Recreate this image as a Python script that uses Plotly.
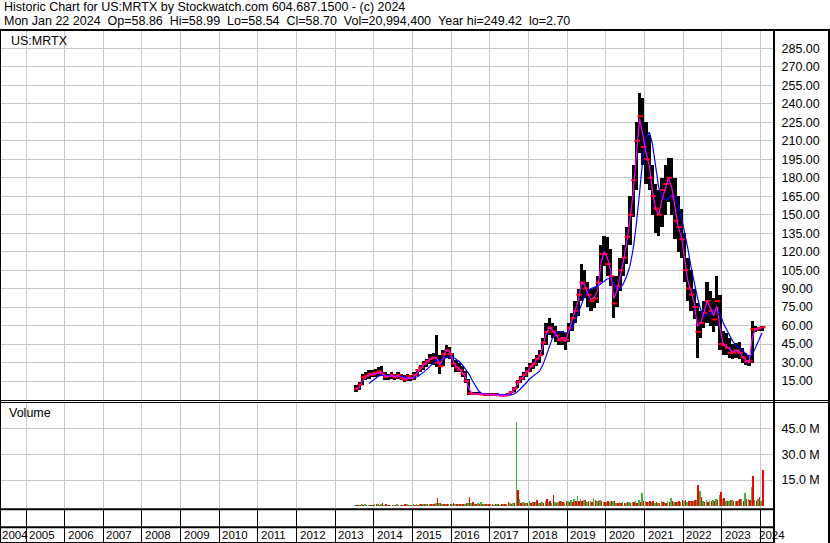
import plotly.graph_objects as go

# ---------------- data ----------------
months = [
    "2013-07","2013-08","2013-09","2013-10","2013-11","2013-12",
    "2014-01","2014-02","2014-03","2014-04","2014-05","2014-06","2014-07","2014-08","2014-09","2014-10","2014-11","2014-12",
    "2015-01","2015-02","2015-03","2015-04","2015-05","2015-06","2015-07","2015-08","2015-09","2015-10","2015-11","2015-12",
    "2016-01","2016-02","2016-03","2016-04","2016-05","2016-06","2016-07","2016-08","2016-09","2016-10","2016-11","2016-12",
    "2017-01","2017-02","2017-03","2017-04","2017-05","2017-06","2017-07","2017-08","2017-09","2017-10","2017-11","2017-12",
    "2018-01","2018-02","2018-03","2018-04","2018-05","2018-06","2018-07","2018-08","2018-09","2018-10","2018-11","2018-12",
    "2019-01","2019-02","2019-03","2019-04","2019-05","2019-06","2019-07","2019-08","2019-09","2019-10","2019-11","2019-12",
    "2020-01","2020-02","2020-03","2020-04","2020-05","2020-06","2020-07","2020-08","2020-09","2020-10","2020-11","2020-12",
    "2021-01","2021-02","2021-03","2021-04","2021-05","2021-06","2021-07","2021-08","2021-09","2021-10","2021-11","2021-12",
    "2022-01","2022-02","2022-03","2022-04","2022-05","2022-06","2022-07","2022-08","2022-09","2022-10","2022-11","2022-12",
    "2023-01","2023-02","2023-03","2023-04","2023-05","2023-06","2023-07","2023-08","2023-09","2023-10","2023-11","2023-12",
    "2024-01",
]
highs = [
    12, 14, 21, 22, 24, 24,
    25, 26, 27, 22, 21, 22, 21, 22, 21, 20, 21, 20,
    22, 25, 28, 31, 33, 37, 38, 52, 36, 40, 44, 43,
    38, 32, 30, 27, 23, 17, 6, 6, 6, 5.5, 5.5, 5.5,
    5.5, 5, 5, 4.5, 4.5, 5, 7, 10, 16, 19, 22, 26,
    30, 33, 36, 40, 50, 62, 66, 62, 60, 56, 56, 54,
    62, 70, 80, 90, 110, 105, 95, 90, 91, 100, 125, 133,
    132, 122, 100, 100, 115, 125, 140, 165, 190, 225, 249, 245,
    225, 215, 190, 175, 170, 180, 190, 196, 196, 180, 165, 155,
    135, 115, 105, 90, 78, 72, 80, 95, 88, 82, 100, 85,
    56, 54, 50, 45, 46, 47, 42, 38, 36, 64, 60, 59,
    59.5,
]
lows = [
    6, 8, 12, 16, 17, 18,
    18, 19, 19, 16, 16, 17, 16, 17, 16, 14, 15, 15,
    16, 19, 22, 24, 26, 29, 28, 26, 21, 27, 34, 33,
    26, 22, 22, 18, 13, 4, 3.5, 3.5, 3.5, 3.5, 3, 3,
    3, 3, 2.7, 2.7, 2.7, 3, 3.5, 6, 9, 13, 16, 18,
    22, 25, 27, 30, 36, 44, 52, 50, 47, 44, 44, 40,
    47, 56, 62, 68, 80, 82, 75, 72, 74, 78, 95, 108,
    100, 92, 66, 75, 88, 100, 110, 125, 148, 170, 200, 190,
    175, 170, 150, 135, 133, 140, 150, 160, 150, 130, 120, 115,
    95, 80, 72, 65, 34, 50, 58, 62, 60, 55, 60, 40,
    36, 36, 34, 33, 34, 33, 30, 28, 27, 30, 55, 56,
    56,
]
closes = [
    9, 12, 18, 19, 21, 20,
    22, 23, 21, 18, 19, 20, 18, 20, 17, 16, 19, 17,
    20, 24, 26, 29, 31, 33, 34, 30, 27, 37, 40, 37,
    29, 26, 24, 21, 15, 5, 4.5, 4.5, 4.5, 4, 4, 4,
    4, 3.8, 3.5, 3.2, 3.2, 4, 6, 9, 14, 17, 20, 23,
    27, 29, 33, 36, 46, 55, 58, 55, 52, 48, 50, 48,
    58, 66, 72, 85, 95, 90, 85, 80, 82, 95, 118, 118,
    110, 100, 78, 92, 105, 115, 132, 150, 178, 210, 230, 205,
    195, 180, 165, 155, 150, 170, 175, 180, 165, 145, 140, 130,
    105, 90, 85, 75, 55, 62, 70, 80, 72, 65, 80, 45,
    44, 42, 38, 38, 40, 38, 34, 31, 31, 57, 57, 58,
    58.7,
]
ma_short = [
    8, 10, 15, 18, 20, 20.5,
    21, 22, 22, 19, 18.5, 19.5, 18.5, 19.5, 18, 16.5, 17.5, 17,
    18.5, 22, 25, 28, 30, 33, 34, 34, 28, 33, 40, 39,
    32, 27, 25, 22, 18, 9, 5, 4.5, 4.5, 4.5, 4, 4,
    4, 4, 3.7, 3.4, 3.2, 3.6, 5, 8, 12, 16, 19, 22,
    26, 29, 32, 35, 43, 53, 59, 56, 53, 49, 50, 47,
    55, 64, 72, 80, 95, 93, 86, 81, 83, 88, 110, 120,
    115, 105, 82, 88, 100, 112, 127, 145, 168, 198, 228, 215,
    200, 190, 170, 155, 150, 162, 172, 180, 172, 155, 140, 132,
    115, 96, 88, 78, 60, 62, 70, 80, 74, 68, 76, 58,
    45, 43, 41, 38, 40, 39, 35, 32, 30, 50, 57, 57.5,
    58.5,
]
ma_long = [
    None, None, None, None, 13, 15,
    17, 19, 20, 20, 20, 19.5, 19, 19, 19, 18.5, 18, 17.5,
    17.5, 18.5, 20, 22, 24.5, 27, 30, 32, 32, 33, 34, 35,
    34.5, 33, 31, 28, 25, 21, 16, 11, 7, 5, 4.5, 4.3,
    4.2, 4.1, 4, 3.8, 3.6, 3.5, 3.8, 4.5, 6, 8.5, 11, 14,
    17, 19.5, 21, 23, 28, 35, 43, 50, 54, 55, 55, 54,
    55, 58, 63, 70, 78, 84, 88, 90, 91, 92, 94, 96,
    98, 98, 94, 90, 90, 94, 100, 108, 122, 142, 168, 195,
    212, 217, 208, 188, 172, 164, 162, 163, 166, 165, 158, 148,
    136, 122, 108, 95, 83, 73, 68, 68, 70, 72, 73, 70,
    62, 57, 52, 47, 44, 42, 40, 37, 35, 36, 42, 48,
    54,
]
# volume in millions of shares (largest up-day / down-day of each month)
vol_up = [
    0.6, 0.8, 1.0, 0.9, 0.8, 0.7,
    1.0, 1.2, 1.3, 0.8, 0.7, 0.8, 0.8, 0.9, 0.7, 0.8, 0.9, 0.7,
    0.9, 1.1, 1.2, 1.0, 1.1, 1.3, 1.2, 2.0, 1.5, 1.2, 1.4, 1.1,
    1.0, 1.1, 0.9, 1.0, 1.2, 1.5, 1.8, 1.0, 1.5, 2.5, 1.0, 0.9,
    1.0, 0.8, 0.9, 0.8, 0.9, 1.0, 1.5, 2.0, 48.5, 4.0, 2.5, 2.0,
    3.0, 2.2, 2.5, 2.0, 2.5, 3.0, 2.5, 2.0, 2.5, 2.2, 2.8, 2.0,
    3.0, 3.5, 4.0, 5.5, 4.0, 3.5, 2.5, 3.0, 4.5, 3.0, 3.2, 2.5,
    2.5, 2.2, 3.0, 2.0, 2.2, 2.5, 2.0, 2.2, 2.5, 3.0, 3.5, 7.5,
    3.0, 2.5, 2.5, 2.0, 2.0, 3.0, 2.5, 3.0, 4.5, 2.5, 2.5, 2.5,
    3.0, 2.5, 3.0, 3.0, 3.5, 8.5, 3.0, 3.5, 3.0, 3.5, 4.0, 6.5,
    4.0, 3.0, 3.0, 3.5, 3.0, 3.5, 4.0, 7.5, 4.0, 11.0, 3.5, 4.0,
    3.0,
]
vol_dn = [
    0.4, 0.6, 0.7, 0.8, 0.6, 0.6,
    0.9, 0.8, 1.5, 1.0, 0.8, 0.6, 0.7, 0.7, 0.8, 1.0, 0.7, 0.8,
    0.7, 0.8, 1.0, 0.9, 0.9, 1.0, 1.4, 4.5, 2.0, 1.0, 1.2, 1.3,
    1.5, 1.2, 1.0, 1.1, 1.6, 5.0, 2.2, 0.9, 1.0, 1.4, 0.9, 1.0,
    1.2, 0.9, 1.3, 1.0, 1.1, 2.5, 1.0, 1.5, 9.5, 2.0, 1.8, 1.5,
    2.0, 2.5, 3.5, 2.0, 1.8, 4.0, 2.8, 6.5, 2.0, 3.0, 2.5, 3.0,
    2.2, 2.5, 2.8, 3.0, 3.0, 3.5, 3.0, 2.5, 3.2, 2.8, 3.0, 2.4,
    3.0, 2.8, 3.0, 2.0, 2.0, 2.0, 2.5, 2.0, 2.5, 2.0, 2.5, 3.0,
    2.5, 3.0, 3.0, 2.5, 2.0, 2.5, 2.0, 2.5, 3.0, 2.5, 3.0, 3.5,
    3.5, 3.0, 3.0, 3.5, 12.0, 5.0, 2.5, 2.5, 3.0, 3.0, 3.5, 8.0,
    4.5, 3.0, 3.5, 3.0, 3.0, 4.0, 3.0, 4.0, 3.5, 17.5, 3.0, 5.0,
    21.0,
]
price_ticks = [15, 30, 45, 60, 75, 90, 105, 120, 135, 150, 165, 180, 195, 210, 225, 240, 255, 270, 285]
vol_ticks = [15, 30, 45]
years = list(range(2004, 2025))

header1 = "Historic Chart for US:MRTX by Stockwatch.com 604.687.1500 - (c) 2024"
header2 = ("Mon Jan 22 2024  Op=58.86  Hi=58.99  Lo=58.54  Cl=58.70  "
           "Vol=20,994,400  Year hi=249.42  lo=2.70")

# ---------------- figure ----------------
FONT = "Liberation Sans, Arial, sans-serif"
W, H = 830, 543
ML, MR, MT, MB = 1, 56, 30, 1
PW, PH = W - ML - MR, H - MT - MB


def px(X):
    return (X - ML) / PW


def py(Y):
    return (H - MB - Y) / PH


dates = [m + "-15" for m in months]
mid_dates = [m + "-08" for m in months]
late_dates = [m + "-23" for m in months]
DAY = 86400000
xrange_ = ["2004-05-09", "2024-05-08"]
year_starts = [f"{y}-01-01" for y in years[1:]]

fig = go.Figure()

# price bars (monthly high-low ranges)
fig.add_trace(go.Bar(
    x=dates, y=[h - l for h, l in zip(highs, lows)], base=lows,
    width=31 * DAY, marker=dict(color="black", line=dict(width=0)),
    xaxis="x", yaxis="y", hoverinfo="skip"))
# closing ticks
fig.add_trace(go.Scatter(
    x=late_dates, y=closes, mode="markers",
    marker=dict(symbol="line-ew", size=4, line=dict(color="#ff0000", width=2)),
    xaxis="x", yaxis="y", hoverinfo="skip"))
fig.add_trace(go.Scatter(
    x=dates, y=ma_long, mode="lines", line=dict(color="#0000ff", width=1.2),
    xaxis="x", yaxis="y", hoverinfo="skip"))
fig.add_trace(go.Scatter(
    x=dates, y=ma_short, mode="lines", line=dict(color="#ff00ff", width=1.2),
    xaxis="x", yaxis="y", hoverinfo="skip"))

# volume
fig.add_trace(go.Bar(
    x=mid_dates, y=[v * 1e6 for v in vol_up], width=14 * DAY,
    marker=dict(color="#3cb43c", line=dict(width=0)),
    xaxis="x2", yaxis="y2", hoverinfo="skip"))
fig.add_trace(go.Bar(
    x=late_dates, y=[v * 1e6 for v in vol_dn], width=14 * DAY,
    marker=dict(color="#ff0000", line=dict(width=0)),
    xaxis="x2", yaxis="y2", hoverinfo="skip"))

# dummy trace for the year strip
fig.add_trace(go.Scatter(x=[xrange_[0]], y=[0], mode="markers",
                         marker=dict(opacity=0), xaxis="x3", yaxis="y3",
                         hoverinfo="skip"))

GRID = "#c8c8c8"
xcommon = dict(range=xrange_, type="date", tickmode="array", tickvals=year_starts,
               showticklabels=False, ticks="", showline=False, zeroline=False,
               gridwidth=1, fixedrange=True)

price_dom = [py(400.5), py(30.5)]
vol_dom = [py(508.5), py(402.5)]
strip_dom = [0, py(509)]

fig.update_layout(
    width=W, height=H,
    margin=dict(l=ML, r=MR, t=MT, b=MB, pad=0),
    paper_bgcolor="white", plot_bgcolor="white",
    showlegend=False, barmode="overlay", bargap=0,
    font=dict(family=FONT, size=12.5, color="black"),
    xaxis=dict(**xcommon, anchor="y", showgrid=True, gridcolor=GRID),
    xaxis2=dict(**xcommon, anchor="y2", showgrid=True, gridcolor=GRID),
    xaxis3=dict(**xcommon, anchor="y3", showgrid=True, gridcolor="black"),
    yaxis=dict(domain=price_dom, range=[-0.81, 299.5], side="right",
               tickmode="array", tickvals=price_ticks,
               ticktext=[f"{v:.2f}" for v in price_ticks],
               showgrid=True, gridcolor=GRID, gridwidth=1, zeroline=False,
               showline=False, ticks="outside", ticklen=4,
               tickcolor="rgba(0,0,0,0)", fixedrange=True,
               tickfont=dict(family=FONT, size=12.5, color="black")),
    yaxis2=dict(domain=vol_dom, range=[-1.45e6, 59.9e6], side="right",
                tickmode="array", tickvals=[v * 1e6 for v in vol_ticks],
                ticktext=[f"{v:.1f} M" for v in vol_ticks],
                showgrid=True, gridcolor=GRID, gridwidth=1, zeroline=False,
                showline=False, ticks="outside", ticklen=4,
                tickcolor="rgba(0,0,0,0)", fixedrange=True,
                tickfont=dict(family=FONT, size=12.5, color="black")),
    yaxis3=dict(domain=strip_dom, range=[0, 1], showgrid=False, zeroline=False,
                showticklabels=False, ticks="", showline=False, fixedrange=True),
)

# frame lines
def hline(Y, X0, X1, w):
    return dict(type="line", xref="paper", yref="paper", x0=px(X0), x1=px(X1),
                y0=py(Y), y1=py(Y), line=dict(color="black", width=w), layer="above")


def vline(X, Y0, Y1, w):
    return dict(type="line", xref="paper", yref="paper", x0=px(X), x1=px(X),
                y0=py(Y0), y1=py(Y1), line=dict(color="black", width=w), layer="above")


shapes = [
    hline(30, 0, 830, 2),
    vline(0.5, 30, 543, 1),
    vline(774, 30, 543, 2),
    vline(829, 30, 543, 2),
    hline(400.5, 0, 830, 1),
    hline(402.5, 0, 830, 1),
    hline(509.2, 0, 774, 2),
    hline(527.2, 0, 774, 2),
    hline(542.5, 0, 774, 1),
]
fig.update_layout(shapes=shapes)

annotations = [
    dict(text=header1, xref="paper", yref="paper", x=px(2), y=py(7),
         xanchor="left", yanchor="middle", showarrow=False,
         font=dict(family=FONT, size=12.5, color="black")),
    dict(text=header2.replace(" ", "\u00a0"), xref="paper", yref="paper", x=px(2), y=py(21),
         xanchor="left", yanchor="middle", showarrow=False,
         font=dict(family=FONT, size=12.5, color="black")),
    dict(text="US:MRTX", xref="paper", yref="paper", x=px(9), y=py(41),
         xanchor="left", yanchor="middle", showarrow=False,
         font=dict(family=FONT, size=12.5, color="black")),
    dict(text="Volume", xref="paper", yref="paper", x=px(7), y=py(413),
         xanchor="left", yanchor="middle", showarrow=False,
         font=dict(family=FONT, size=12.5, color="black")),
]
for yv in years:
    if yv == 2004:
        ann = dict(xref="paper", x=px(0), xanchor="left", xshift=0)
    elif yv == 2024:
        ann = dict(xref="x3", x="2024-01-01", xanchor="left", xshift=-3)
    else:
        ann = dict(xref="x3", x=f"{yv}-01-01", xanchor="left", xshift=1)
    ann.update(text=str(yv), yref="paper", y=py(535), yanchor="middle",
               showarrow=False, font=dict(family=FONT, size=11.5, color="black"))
    annotations.append(ann)
fig.update_layout(annotations=annotations)

fig.write_html("out.html",
               config={"displayModeBar": False, "staticPlot": True},
               post_script="document.body.style.margin='0px';"
                           "document.body.style.overflow='hidden';")
